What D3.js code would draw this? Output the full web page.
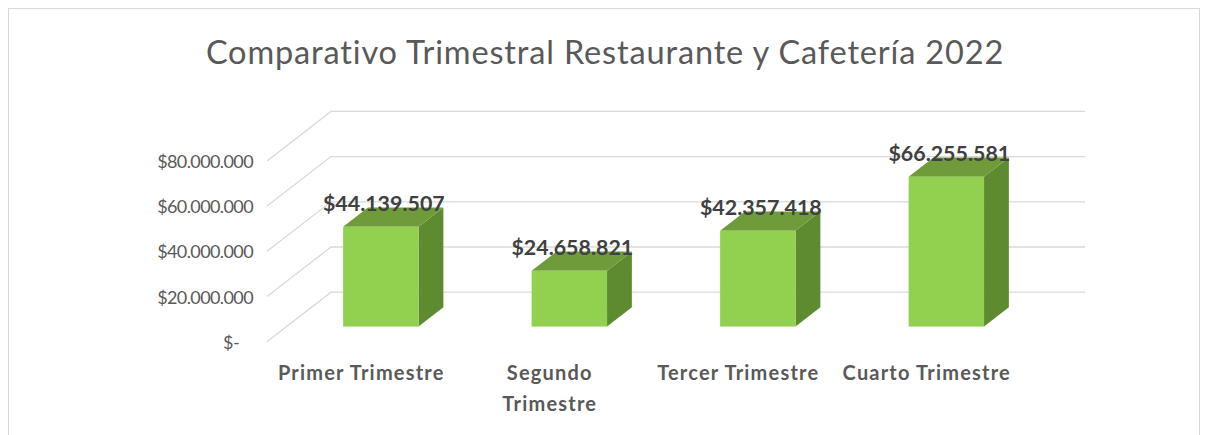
<!DOCTYPE html>
<html><head><meta charset="utf-8">
<script src="https://cdn.jsdelivr.net/npm/d3@7"></script>
<style>body{margin:0;background:#fff;}svg{display:block;}</style>
</head><body>
<svg id="c" width="1208" height="435"></svg>
<script>
const title = "Comparativo Trimestral Restaurante y Cafetería 2022";
const categories = [["Primer Trimestre"], ["Segundo", "Trimestre"], ["Tercer Trimestre"], ["Cuarto Trimestre"]];
const values = [44139507, 24658821, 42357418, 66255581];
const valueLabels = ["$44.139.507", "$24.658.821", "$42.357.418", "$66.255.581"];
const tickValues = [0, 20000000, 40000000, 60000000, 80000000];
const tickLabels = ["$-", "$20.000.000", "$40.000.000", "$60.000.000", "$80.000.000"];

const svg = d3.select("#c");
const font = "Lato, 'Open Sans', sans-serif";

// frame
svg.append("rect").attr("x", 8.5).attr("y", 8.5).attr("width", 1191).attr("height", 440)
  .attr("fill", "#fff").attr("stroke", "#D9D9D9");

svg.append("text").attr("x", 605).attr("y", 64).attr("text-anchor", "middle")
  .attr("font-family", font).attr("font-size", 32.5).attr("letter-spacing", 0.85)
  .attr("fill", "#595959").text(title);

// geometry (front plane)
const depth = {dx: 64, dy: -49.5};
const x = d3.scaleBand().domain(d3.range(categories.length)).range([267, 1021]).paddingInner(0.6).paddingOuter(0.3);
const y = d3.scaleLinear().domain([0, 80000000]).range([341.7, 160.9]);

const g = svg.append("g");
// gridlines: diagonal on left wall + horizontal on back wall
tickValues.forEach(v => {
  const yf = y(v);
  g.append("path").attr("d", `M${267},${yf}L${267 + depth.dx},${yf + depth.dy}L${1085},${yf + depth.dy}`)
    .attr("fill", "none").attr("stroke", "#D9D9D9").attr("stroke-width", 1.3);
});

// y tick labels
g.selectAll(".yl").data(tickValues).enter().append("text")
  .attr("x", (d, i) => i === 0 ? 239 : 253).attr("y", d => y(d) + 7)
  .attr("text-anchor", "end").attr("font-family", font).attr("font-size", 18).attr("letter-spacing", -0.6)
  .attr("fill", "#595959")
  .text((d, i) => tickLabels[i]);

// bars
const f0 = 0.306, f1 = 0.694;
const bw = x.bandwidth();
values.forEach((v, i) => {
  const xl = x(i) + f0 * depth.dx, xr = xl + bw;
  const yb = y(0) + f0 * depth.dy, yt = y(v) + f0 * depth.dy;
  const ddx = (f1 - f0) * depth.dx, ddy = (f1 - f0) * depth.dy;
  // side
  g.append("path").attr("d", `M${xr},${yt}L${xr + ddx},${yt + ddy}L${xr + ddx},${yb + ddy}L${xr},${yb}Z`)
    .attr("fill", "#5E8A30");
  // top
  g.append("path").attr("d", `M${xl},${yt}L${xl + ddx},${yt + ddy}L${xr + ddx},${yt + ddy}L${xr},${yt}Z`)
    .attr("fill", "#6F9B3B");
  // front
  g.append("rect").attr("x", xl).attr("y", yt).attr("width", bw).attr("height", yb - yt)
    .attr("fill", "#92D050");
  // label
  g.append("text").attr("x", xl + bw / 2 + 3).attr("y", yt - 16).attr("text-anchor", "middle")
    .attr("font-family", font).attr("font-weight", "bold").attr("font-size", 21.4).attr("fill", "#404040")
    .text(valueLabels[i]);
});

// category labels
categories.forEach((lines, i) => {
  const cx = x(i) + bw / 2;
  const t = g.append("text").attr("text-anchor", "middle").attr("font-family", font)
    .attr("font-weight", "bold").attr("font-size", 20).attr("letter-spacing", 1.2).attr("fill", "#595959");
  lines.forEach((l, j) => t.append("tspan").attr("x", cx).attr("y", 380 + j * 31).text(l));
});
</script>
</body></html>
